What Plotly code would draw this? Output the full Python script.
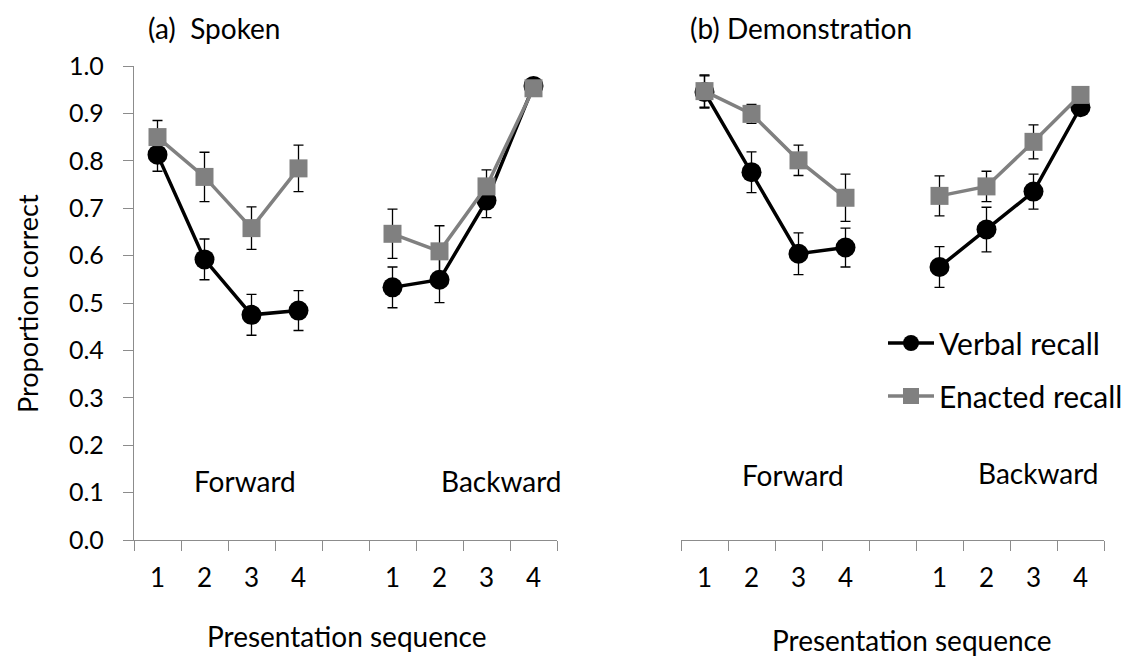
import plotly.graph_objects as go

# ---- data ----
seq_labels = ["1", "2", "3", "4"]
forward_pos = [0, 1, 2, 3]
backward_pos = [5, 6, 7, 8]

# Panel (a) Spoken
a_verbal_fwd = [0.813, 0.592, 0.475, 0.484]
a_verbal_fwd_err = [0.035, 0.043, 0.043, 0.042]
a_enact_fwd = [0.850, 0.766, 0.658, 0.784]
a_enact_fwd_err = [0.035, 0.052, 0.045, 0.049]
a_verbal_bwd = [0.533, 0.549, 0.716, 0.958]
a_verbal_bwd_err = [0.043, 0.048, 0.036, 0.006]
a_enact_bwd = [0.646, 0.609, 0.746, 0.953]
a_enact_bwd_err = [0.052, 0.054, 0.035, 0.006]

# Panel (b) Demonstration
b_verbal_fwd = [0.945, 0.776, 0.604, 0.617]
b_verbal_fwd_err = [0.034, 0.043, 0.044, 0.041]
b_enact_fwd = [0.947, 0.899, 0.801, 0.722]
b_enact_fwd_err = [0.034, 0.020, 0.032, 0.050]
b_verbal_bwd = [0.576, 0.655, 0.735, 0.913]
b_verbal_bwd_err = [0.043, 0.047, 0.037, 0.010]
b_enact_bwd = [0.726, 0.746, 0.840, 0.939]
b_enact_bwd_err = [0.042, 0.032, 0.036, 0.017]

series_names = ["Verbal recall", "Enacted recall"]
group_names = ["Forward", "Backward"]
panel_titles = ["(a)  Spoken", "(b) Demonstration"]
y_ticks = [0.0, 0.1, 0.2, 0.3, 0.4, 0.5, 0.6, 0.7, 0.8, 0.9, 1.0]

FONT = "Lato"
FS = 28
TICK_FS = 25
BLACK = "#000000"
GRAY = "#808080"
AXIS = "#8c8c8c"

W, H = 1135, 664
TOP, BOT = 58, 532          # pixel rows of 1.0 and 0.0
PH = BOT - TOP


def py(pix):  # pixel row -> paper y
    return (BOT - pix) / PH


fig = go.Figure()

styles = {
    "Verbal recall": dict(color=BLACK, symbol="circle", size=20),
    "Enacted recall": dict(color=GRAY, symbol="square", size=18),
}

panels = [
    ("x", "y", {
        "Verbal recall": [(a_verbal_fwd, a_verbal_fwd_err, forward_pos), (a_verbal_bwd, a_verbal_bwd_err, backward_pos)],
        "Enacted recall": [(a_enact_fwd, a_enact_fwd_err, forward_pos), (a_enact_bwd, a_enact_bwd_err, backward_pos)],
    }),
    ("x2", "y2", {
        "Verbal recall": [(b_verbal_fwd, b_verbal_fwd_err, forward_pos), (b_verbal_bwd, b_verbal_bwd_err, backward_pos)],
        "Enacted recall": [(b_enact_fwd, b_enact_fwd_err, forward_pos), (b_enact_bwd, b_enact_bwd_err, backward_pos)],
    }),
]

shown = set()
for xa, ya, data in panels:
    for name in series_names:
        st = styles[name]
        for vals, errs, pos in data[name]:
            show = name not in shown
            shown.add(name)
            fig.add_trace(go.Scatter(
                x=pos, y=vals, xaxis=xa, yaxis=ya,
                mode="lines+markers", name=name, legendgroup=name, showlegend=show,
                line=dict(color=st["color"], width=3.5),
                marker=dict(color=st["color"], symbol=st["symbol"], size=st["size"]),
                error_y=dict(type="data", array=errs, color=BLACK, thickness=1.3, width=5),
                cliponaxis=False,
            ))

x_common = dict(
    range=[-0.5, 8.5], tickmode="array",
    tickvals=forward_pos + backward_pos, ticktext=seq_labels + seq_labels,
    ticks="", showline=True, linecolor=AXIS, linewidth=1.3,
    showgrid=False, zeroline=False, tickfont=dict(size=TICK_FS + 1, color=BLACK),
    ticklabelstandoff=15,
    minor=dict(ticks="outside", tick0=-0.5, dtick=1, ticklen=10, tickcolor=AXIS, tickwidth=1.3, showgrid=False),
    fixedrange=True,
)

fig.update_layout(
    width=W, height=H,
    margin=dict(l=0, r=0, t=TOP, b=H - BOT),
    paper_bgcolor="white", plot_bgcolor="white",
    font=dict(family=FONT, size=FS, color=BLACK),
    xaxis=dict(domain=[126 / W, 549 / W], anchor="y", **x_common),
    xaxis2=dict(domain=[673 / W, 1096 / W], anchor="y2", **x_common),
    yaxis=dict(
        range=[0, 1.0], tickmode="array", tickvals=y_ticks,
        ticktext=[f"{v:.1f}" for v in y_ticks],
        ticks="outside", ticklen=10, tickcolor=AXIS, tickwidth=1.3,
        showline=True, linecolor=AXIS, linewidth=1.3, showgrid=False, zeroline=False,
        tickfont=dict(size=TICK_FS, color=BLACK), ticklabelstandoff=14,
        fixedrange=True,
    ),
    yaxis2=dict(range=[0, 1.0], anchor="x2", visible=False, fixedrange=True),
    showlegend=True,
    legend=dict(
        x=875 / W, xref="paper", y=py(309), yanchor="top",
        font=dict(size=30, color=BLACK), bgcolor="rgba(0,0,0,0)",
        tracegroupgap=11, itemwidth=46,
    ),
)

# y-axis title
fig.add_annotation(text="Proportion correct", x=19 / W, y=py(296), xref="paper", yref="paper",
                   textangle=-90, xanchor="center", yanchor="middle", showarrow=False, font=dict(size=27))

# panel titles
fig.add_annotation(text=panel_titles[0], x=138 / W, y=py(20), xref="paper", yref="paper",
                   xanchor="left", yanchor="middle", showarrow=False, font=dict(size=FS))
fig.add_annotation(text=panel_titles[1], x=680 / W, y=py(20), xref="paper", yref="paper",
                   xanchor="left", yanchor="middle", showarrow=False, font=dict(size=FS))

# group labels
fig.add_annotation(text=group_names[0], x=1.86, y=0.124, xref="x", yref="y", showarrow=False, font=dict(size=FS))
fig.add_annotation(text=group_names[1], x=7.3, y=0.124, xref="x", yref="y", showarrow=False, font=dict(size=FS))
fig.add_annotation(text=group_names[0], x=1.89, y=0.137, xref="x2", yref="y2", showarrow=False, font=dict(size=FS))
fig.add_annotation(text=group_names[1], x=7.1, y=0.141, xref="x2", yref="y2", showarrow=False, font=dict(size=FS))

# x-axis titles
fig.add_annotation(text="Presentation sequence", x=338 / W, y=py(628), xref="paper", yref="paper",
                   xanchor="center", yanchor="middle", showarrow=False, font=dict(size=FS))
fig.add_annotation(text="Presentation sequence", x=903 / W, y=py(632), xref="paper", yref="paper",
                   xanchor="center", yanchor="middle", showarrow=False, font=dict(size=FS))

fig.write_html("out.html")
